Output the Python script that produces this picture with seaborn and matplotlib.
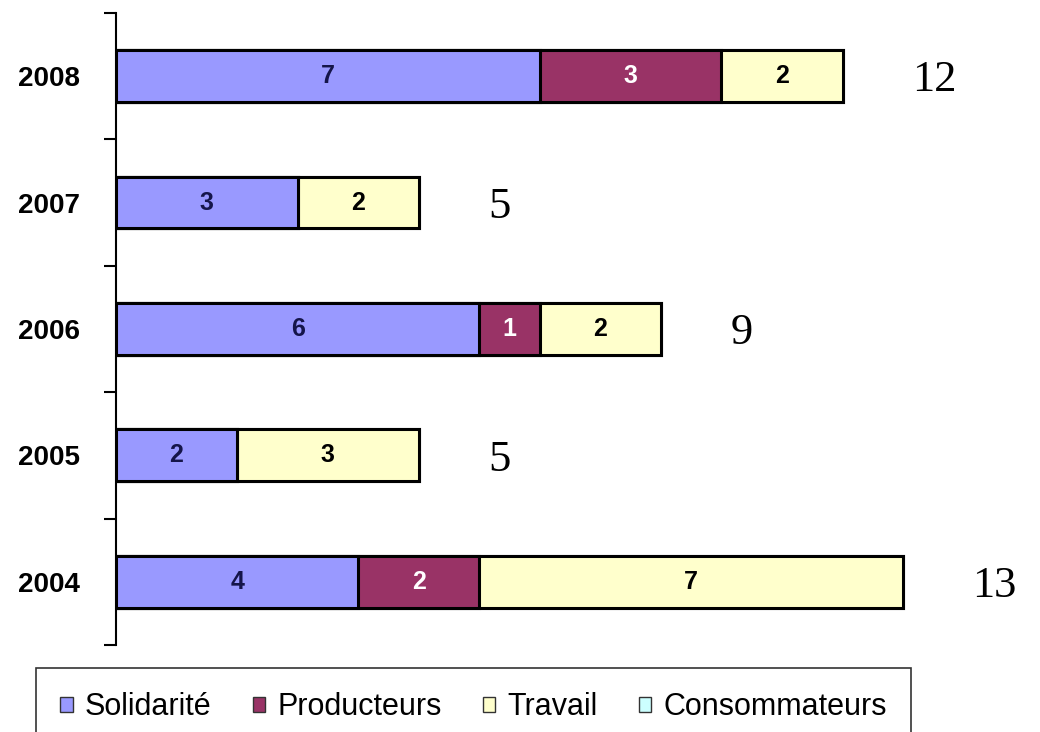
import numpy as np
import pandas as pd
import seaborn as sns
import matplotlib
import matplotlib.pyplot as plt
from matplotlib.patches import Patch

matplotlib.use('Agg')

years = ['2008', '2007', '2006', '2005', '2004']
solidarite = [7, 3, 6, 2, 4]
producteurs = [3, 0, 1, 0, 2]
travail = [2, 2, 2, 3, 7]
consommateurs = [0, 0, 0, 0, 0]
totals = [12, 5, 9, 5, 13]

series = ['Solidarité', 'Producteurs', 'Travail', 'Consommateurs']
colors = ['#9999ff', '#993366', '#ffffcc', '#ccffff']
label_colors = ['#15154a', 'white', 'black', 'black']


def plot_chart():
    sns.set_style('white')
    plt.rcParams['font.family'] = ['Liberation Sans', 'DejaVu Sans']
    plt.rcParams['text.color'] = 'black'
    plt.rcParams['ytick.labelcolor'] = 'black'

    df = pd.DataFrame({'year': years,
                       'Solidarité': solidarite,
                       'Producteurs': producteurs,
                       'Travail': travail,
                       'Consommateurs': consommateurs})
    cum = df[series].cumsum(axis=1)

    fig = plt.figure(figsize=(10.4, 7.32), dpi=100)
    ax = fig.add_axes([0.1115, 0.1189, 0.8885, 0.8634])

    # stacked bars: draw cumulative lengths, longest first
    for name, color in reversed(list(zip(series, colors))):
        sns.barplot(x=cum[name], y=df['year'], order=years, orient='h',
                    color=color, saturation=1, edgecolor='black',
                    linewidth=2.2, width=0.41, errorbar=None, ax=ax)

    # values inside the segments
    for i, name in enumerate(series):
        for j, val in enumerate(df[name]):
            if val == 0:
                continue
            x = cum[name][j] - val / 2
            ax.text(x, j, str(val), ha='center', va='center', color=label_colors[i],
                    fontsize=18, fontweight='bold', family='Liberation Sans')

    # totals to the right of the bars
    for j, t in enumerate(totals):
        ax.annotate(str(t), xy=(t, j), xytext=(50, -3), textcoords='offset points',
                    ha='left', va='center', fontsize=32, family='Liberation Serif')

    ax.set_xlim(0, 15.26)
    ax.set_ylim(4.5, -0.5)
    ax.set_xlabel('')
    ax.set_ylabel('')
    ax.xaxis.set_visible(False)
    for s in ['top', 'right', 'bottom']:
        ax.spines[s].set_visible(False)
    ax.spines['left'].set_color('black')
    ax.spines['left'].set_linewidth(1.5)

    ax.set_yticks(range(len(years)))
    ax.set_yticklabels(years, fontsize=20, fontweight='bold')
    ax.set_yticks(np.arange(-0.5, len(years), 1), minor=True)
    ax.tick_params(axis='y', which='major', length=0, pad=26)
    ax.tick_params(axis='y', which='minor', length=9, width=1.5, color='black',
                   direction='out', left=True)

    handles = [Patch(facecolor=c, edgecolor='#333333', linewidth=1) for c in colors]
    leg = fig.legend(handles, series, loc='upper left',
                     bbox_to_anchor=(0.0346, 1 - 668 / 732), ncol=4,
                     frameon=True, fancybox=False, edgecolor='black',
                     fontsize=22, handlelength=0.4, handleheight=0.4,
                     handletextpad=0.4, columnspacing=1.35, borderpad=0.8,
                     borderaxespad=0)
    leg.get_frame().set_linewidth(1.2)

    fig.savefig('out.png', dpi=100)


plot_chart()
